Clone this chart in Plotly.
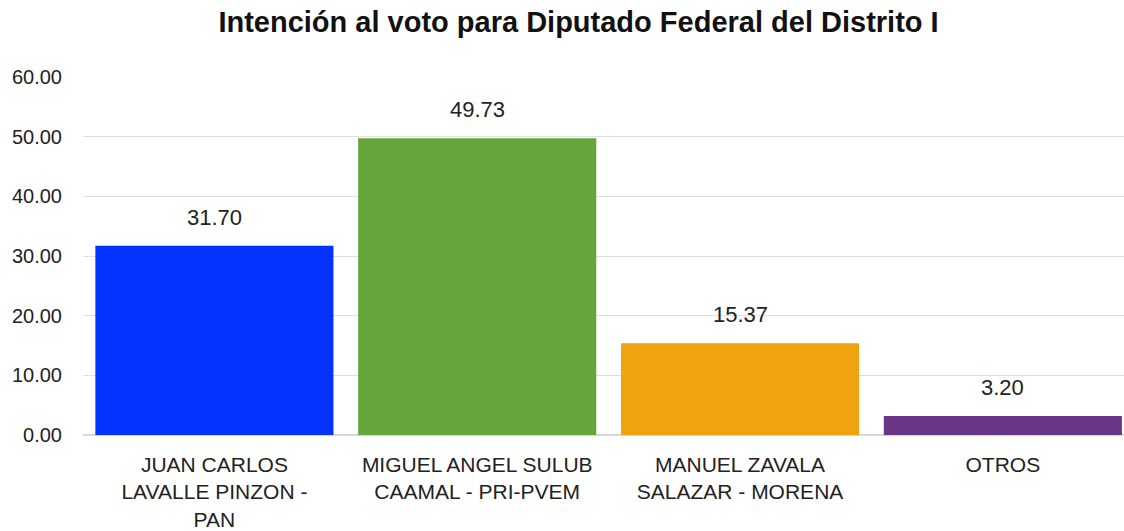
import plotly.graph_objects as go

categories = [
    "JUAN CARLOS<br>LAVALLE PINZON -<br>PAN",
    "MIGUEL ANGEL SULUB<br>CAAMAL - PRI-PVEM",
    "MANUEL ZAVALA<br>SALAZAR - MORENA",
    "OTROS",
]
values = [31.70, 49.73, 15.37, 3.20]
colors = ["#0433FF", "#65A53A", "#EFA40F", "#6A3688"]
title = "Intención al voto para Diputado Federal del Distrito I"

FONT = "Liberation Sans, Arial, sans-serif"

fig = go.Figure(
    go.Bar(
        x=categories,
        y=values,
        marker=dict(color=colors, line=dict(width=0)),
        hoverinfo="skip",
    )
)

for c, v in zip(categories, values):
    fig.add_annotation(
        x=c, y=v, text=f"{v:.2f}", showarrow=False,
        yanchor="bottom", yshift=14,
        font=dict(family=FONT, size=22, color="#222222"),
    )

fig.update_layout(
    width=1124,
    height=531,
    margin=dict(l=83, r=0, t=77, b=96, autoexpand=False),
    paper_bgcolor="white",
    plot_bgcolor="white",
    bargap=0.094,
    showlegend=False,
    title=dict(
        text=f"<b>{title}</b>",
        x=0.5147, xanchor="center", y=0.9586, yanchor="middle",
        font=dict(family=FONT, size=29, color="#111111"),
    ),
    font=dict(family=FONT, color="#222222"),
)
fig.update_yaxes(
    range=[0, 60], dtick=10, tickformat=".2f",
    showgrid=True, gridcolor="#E0E0E0", gridwidth=1,
    zeroline=True, zerolinecolor="#D8D8D8", zerolinewidth=2,
    showline=False, ticks="",
    tickfont=dict(family=FONT, size=20, color="#222222"),
    ticklabelstandoff=20,
    automargin=False,
)
fig.update_xaxes(
    range=[-0.5, 3.461],
    showgrid=False, showline=False, ticks="",
    tickfont=dict(family=FONT, size=21, color="#222222"),
    tickangle=0,
    ticklabelstandoff=15,
    automargin=False,
)

fig.write_html(
    "out.html",
    config={"displayModeBar": False},
    post_script="document.body.style.margin='0px';document.body.style.overflow='hidden';",
)
